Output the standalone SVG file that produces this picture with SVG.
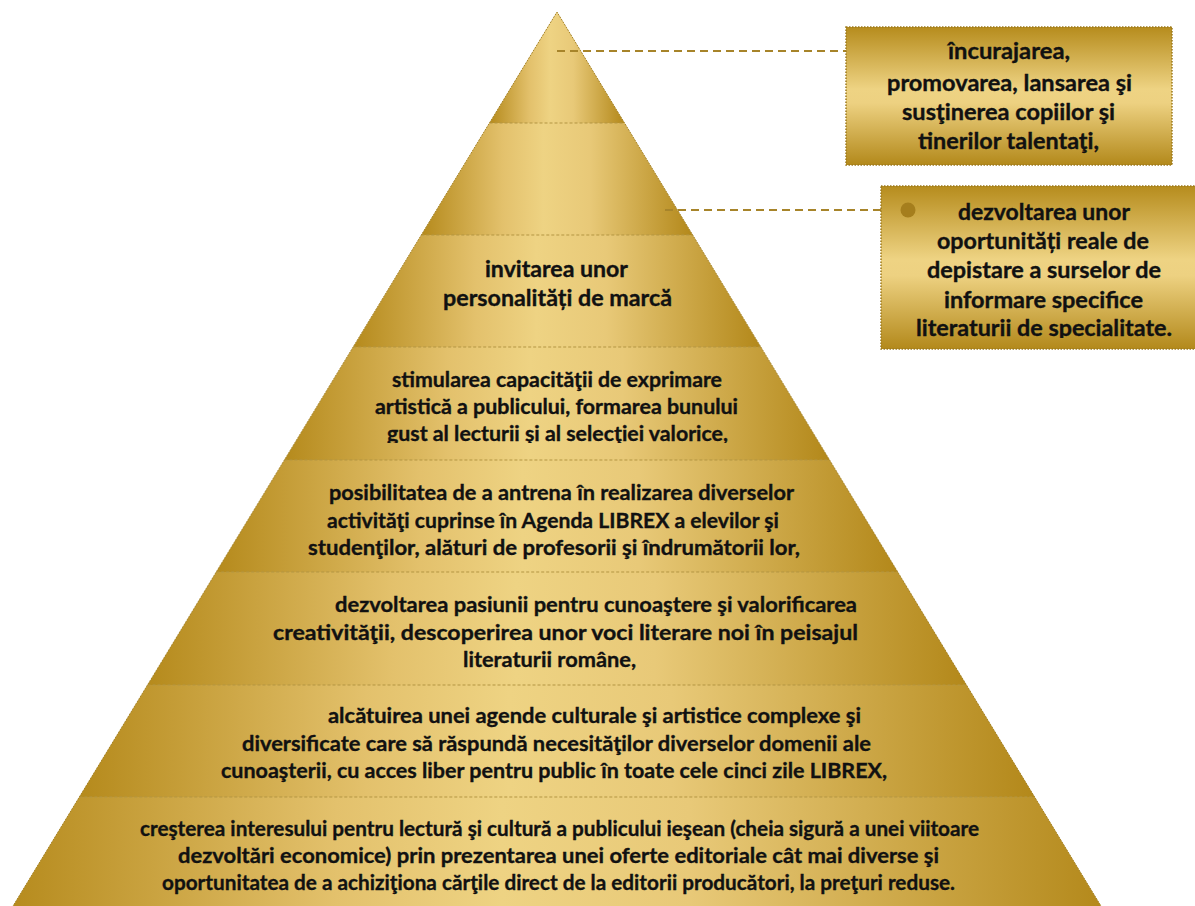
<svg xmlns="http://www.w3.org/2000/svg" width="1195" height="906" viewBox="0 0 1195 906">
<defs>
<linearGradient id="gTier" x1="0" y1="0" x2="1" y2="0">
<stop offset="0" stop-color="#B58A1C"/>
<stop offset="0.3" stop-color="#E3C16C"/>
<stop offset="0.45" stop-color="#EED383"/>
<stop offset="0.62" stop-color="#E8C978"/>
<stop offset="1" stop-color="#B3881A"/>
</linearGradient>
<linearGradient id="gBox" x1="0" y1="0" x2="0" y2="1">
<stop offset="0" stop-color="#B68C1D"/>
<stop offset="0.45" stop-color="#EED383"/>
<stop offset="0.55" stop-color="#EDD181"/>
<stop offset="1" stop-color="#B3891B"/>
</linearGradient>
<clipPath id="clipBox2"><rect x="881" y="186" width="314" height="152"/></clipPath>
<clipPath id="clipT4"><rect x="340" y="347" width="440" height="96"/></clipPath>
</defs>
<style>
.tier{fill:url(#gTier);stroke:none}
.div{stroke:#B39543;stroke-width:1;stroke-dasharray:3 2;fill:none}
.edge{fill:none;stroke:#A8862C;stroke-width:1;stroke-dasharray:2 1}
.box{fill:url(#gBox);stroke:#9C7A1E;stroke-width:1.5;stroke-dasharray:1.5 1.5}
.conn{stroke:#A7842A;stroke-width:2;stroke-dasharray:8 5;fill:none}
.dot{fill:#A57E1D}
text{font-family:Lato,"Open Sans","Liberation Sans",sans-serif;font-weight:bold;fill:#111;stroke:#111;stroke-width:0.35}
.t22{font-size:22px}
.t21{font-size:21px}
.t20{font-size:20px}
</style>
<rect width="1195" height="906" fill="#fff"/>

<g id="pyramid">
<g id="tier1"><polygon class="tier" points="557,12 624.5,123 489.5,123"/></g>
<g id="tier2"><polygon class="tier" points="489.5,123 624.5,123 692.7,235 421.3,235"/></g>
<g id="tier3">
<polygon class="tier" points="421.3,235 692.7,235 760.8,347 353.2,347"/>
<text class="t22" x="485" y="277" textLength="143" lengthAdjust="spacingAndGlyphs">invitarea unor</text>
<text class="t22" x="443" y="306" textLength="229" lengthAdjust="spacingAndGlyphs">personalități de marcă</text>
</g>
<g id="tier4">
<polygon class="tier" points="353.2,347 760.8,347 829.6,460 284.4,460"/>
<g clip-path="url(#clipT4)">
<text class="t20" x="392" y="387" textLength="330" lengthAdjust="spacingAndGlyphs">stimularea capacităţii de exprimare</text>
<text class="t20" x="375" y="414" textLength="363" lengthAdjust="spacingAndGlyphs">artistică a publicului, formarea bunului</text>
<text class="t20" x="387" y="441" textLength="341" lengthAdjust="spacingAndGlyphs">gust al lecturii şi al selecţiei valorice,</text>
</g>
</g>
<g id="tier5">
<polygon class="tier" points="284.4,460 829.6,460 897.8,572 216.2,572"/>
<text class="t21" x="329" y="500" textLength="465" lengthAdjust="spacingAndGlyphs">posibilitatea de a antrena în realizarea diverselor</text>
<text class="t21" x="327" y="528" textLength="452" lengthAdjust="spacingAndGlyphs">activităţi cuprinse în Agenda LIBREX a elevilor şi</text>
<text class="t21" x="308" y="555" textLength="492" lengthAdjust="spacingAndGlyphs">studenţilor, alături de profesorii şi îndrumătorii lor,</text>
</g>
<g id="tier6">
<polygon class="tier" points="216.2,572 897.8,572 966.5,685 147.5,685"/>
<text class="t21" x="335" y="612" textLength="522" lengthAdjust="spacingAndGlyphs">dezvoltarea pasiunii pentru cunoaştere şi valorificarea</text>
<text class="t21" x="273" y="640" textLength="585" lengthAdjust="spacingAndGlyphs">creativităţii, descoperirea unor voci literare noi în peisajul</text>
<text class="t21" x="463" y="667" textLength="173" lengthAdjust="spacingAndGlyphs">literaturii române,</text>
</g>
<g id="tier7">
<polygon class="tier" points="147.5,685 966.5,685 1034.7,797 79.3,797"/>
<text class="t21" x="328" y="723" textLength="533" lengthAdjust="spacingAndGlyphs">alcătuirea unei agende culturale şi artistice complexe şi</text>
<text class="t21" x="242" y="751" textLength="629" lengthAdjust="spacingAndGlyphs">diversificate care să răspundă necesităţilor diverselor domenii ale</text>
<text class="t21" x="221" y="778" textLength="666" lengthAdjust="spacingAndGlyphs">cunoaşterii, cu acces liber pentru public în toate cele cinci zile LIBREX,</text>
</g>
<g id="tier8">
<polygon class="tier" points="79.3,797 1034.7,797 1109.5,920 4.5,920"/>
<text class="t21" x="140" y="836" textLength="839" lengthAdjust="spacingAndGlyphs">creşterea interesului pentru lectură şi cultură a publicului ieşean (cheia sigură a unei viitoare</text>
<text class="t21" x="178" y="863" textLength="761" lengthAdjust="spacingAndGlyphs">dezvoltări economice) prin prezentarea unei oferte editoriale cât mai diverse şi</text>
<text class="t21" x="162" y="890" textLength="793" lengthAdjust="spacingAndGlyphs">oportunitatea de a achiziţiona cărţile direct de la editorii producători, la preţuri reduse.</text>
</g>
<g id="dividers">
<line class="div" x1="489.5" y1="123" x2="624.5" y2="123"/>
<line class="div" x1="421.3" y1="235" x2="692.7" y2="235"/>
<line class="div" x1="353.2" y1="347" x2="760.8" y2="347"/>
<line class="div" x1="284.4" y1="460" x2="829.6" y2="460"/>
<line class="div" x1="216.2" y1="572" x2="897.8" y2="572"/>
<line class="div" x1="147.5" y1="685" x2="966.5" y2="685"/>
<line class="div" x1="79.3" y1="797" x2="1034.7" y2="797"/>
</g>
<polyline class="edge" points="4.5,920 557,12 1109.5,920"/>
</g>

<g id="connectors">
<line class="conn" x1="557" y1="51" x2="846" y2="51"/>
<line class="conn" x1="665" y1="210" x2="900" y2="210"/>
</g>

<g id="box1">
<rect class="box" x="846" y="27" width="326" height="138"/>
<text class="t22" x="948" y="59" textLength="122" lengthAdjust="spacingAndGlyphs">încurajarea,</text>
<text class="t22" x="887" y="91" textLength="245" lengthAdjust="spacingAndGlyphs">promovarea, lansarea şi</text>
<text class="t22" x="902" y="120" textLength="213" lengthAdjust="spacingAndGlyphs">susţinerea copiilor şi</text>
<text class="t22" x="918" y="149" textLength="181" lengthAdjust="spacingAndGlyphs">tinerilor talentaţi,</text>
</g>

<g id="box2">
<rect class="box" x="881" y="186" width="330" height="163"/>
<circle class="dot" cx="908" cy="210" r="7.5"/>
<g clip-path="url(#clipBox2)">
<text class="t22" x="958" y="220" textLength="172" lengthAdjust="spacingAndGlyphs">dezvoltarea unor</text>
<text class="t22" x="937" y="249" textLength="212" lengthAdjust="spacingAndGlyphs">oportunități reale de</text>
<text class="t22" x="927" y="278" textLength="234" lengthAdjust="spacingAndGlyphs">depistare a surselor de</text>
<text class="t22" x="944" y="308" textLength="199" lengthAdjust="spacingAndGlyphs">informare specifice</text>
<text class="t22" x="916" y="336" textLength="256" lengthAdjust="spacingAndGlyphs">literaturii de specialitate.</text>
</g>
</g>
</svg>
